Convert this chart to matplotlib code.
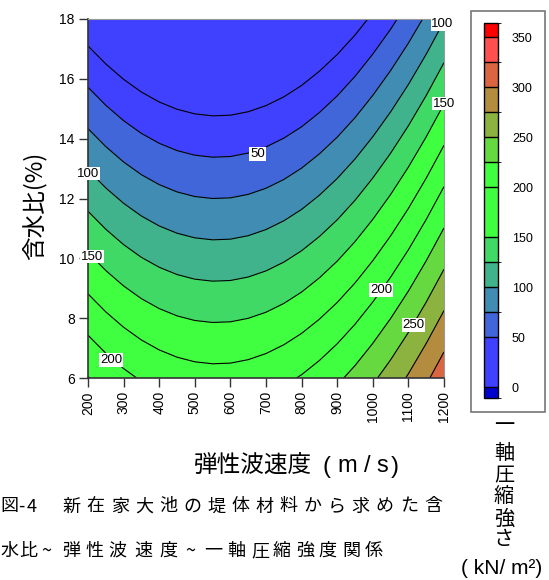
import numpy as np
import matplotlib.pyplot as plt
from matplotlib.colors import ListedColormap, BoundaryNorm
from matplotlib.cm import ScalarMappable
from matplotlib.patches import Rectangle

# grid: velocity (m/s) x moisture (%) -> strength (kN/m2)
velocity = [200, 250, 300, 350, 400, 450, 500, 550, 600, 650, 700,
            750, 800, 850, 900, 950, 1000, 1050, 1100, 1150, 1200]
moisture = [6, 8, 10, 12, 14, 16, 18]
strength = [
    [225.9, 215.0, 205.7, 198.0, 192.0, 187.6, 184.8, 183.6, 184.0, 186.1, 189.8,
     195.1, 202.0, 210.6, 220.7, 232.5, 246.0, 261.0, 277.6, 295.9, 315.8],
    [189.7, 178.8, 169.5, 161.8, 155.8, 151.4, 148.6, 147.4, 147.8, 149.9, 153.6,
     158.9, 165.8, 174.4, 184.5, 196.3, 209.8, 224.8, 241.4, 259.7, 279.6],
    [153.5, 142.6, 133.3, 125.6, 119.6, 115.2, 112.4, 111.2, 111.6, 113.7, 117.4,
     122.7, 129.6, 138.2, 148.3, 160.1, 173.6, 188.6, 205.2, 223.5, 243.4],
    [117.3, 106.4, 97.1, 89.4, 83.4, 79.0, 76.2, 75.0, 75.4, 77.5, 81.2,
     86.5, 93.4, 102.0, 112.1, 123.9, 137.4, 152.4, 169.0, 187.3, 207.2],
    [81.1, 70.2, 60.9, 53.2, 47.2, 42.8, 40.0, 38.8, 39.2, 41.3, 45.0,
     50.3, 57.2, 65.8, 75.9, 87.7, 101.2, 116.2, 132.8, 151.1, 171.0],
    [44.9, 34.0, 24.7, 17.0, 11.0, 6.6, 3.8, 2.6, 3.0, 5.1, 8.8,
     14.1, 21.0, 29.6, 39.7, 51.5, 65.0, 80.0, 96.6, 114.9, 134.8],
    [8.7, -2.2, -11.5, -19.2, -25.2, -29.6, -32.4, -33.6, -33.2, -31.1, -27.4,
     -22.1, -15.2, -6.6, 3.5, 15.3, 28.8, 43.8, 60.4, 78.7, 98.6],
]

line_levels = [25, 50, 75, 100, 125, 150, 175, 200, 225, 250, 275, 300, 325]
fill_levels = [-50] + line_levels + [375]
fill_colors = ['#4040FF', '#4040FF', '#4066D9', '#408CB3', '#40B38C', '#40D966',
               '#40FF40', '#40FF40', '#40FF40', '#66D940', '#8CB340', '#B38C40',
               '#D96640', '#FF5050']

label_text = ['100', '150', '50', '100', '150', '200', '200', '250']
label_x = [1196, 1200, 676, 200, 211, 265, 1024, 1114]
label_y = [17.83, 15.17, 13.48, 12.83, 10.06, 6.6, 8.94, 7.77]

cbar_bounds = [-11, 0, 50, 75, 100, 125, 150, 200, 225, 250, 275, 300, 325, 350, 364]
cbar_colors = ['#0000CC', '#4040FF', '#4066D9', '#408CB3', '#40B38C', '#40D966',
               '#40FF40', '#40FF40', '#66D940', '#8CB340', '#B38C40', '#D96640',
               '#FF5050', '#FF0000']
cbar_ticks = [0, 50, 100, 150, 200, 250, 300, 350]

W, H = 549, 580
JP = ['Noto Sans CJK JP', 'DejaVu Sans']
plt.rcParams['font.family'] = ['Liberation Sans', 'DejaVu Sans']

fig = plt.figure(figsize=(W / 100, H / 100), dpi=100)


def put(s, x, y, size, family=JP, **kw):
    fig.text(x / W, 1 - y / H, s, fontsize=size, family=family,
             ha='center', va='center', **kw)


ax = fig.add_axes([88 / W, 1 - 378 / H, 356 / W, 359 / H])
X, Y = np.meshgrid(velocity, moisture)
Z = np.array(strength)
ax.contourf(X, Y, Z, levels=fill_levels, colors=fill_colors)
ax.contour(X, Y, Z, levels=line_levels, colors='black', linewidths=0.8)

for t, x, y in zip(label_text, label_x, label_y):
    ax.text(x, y, t, ha='center', va='center', fontsize=9.5, zorder=5, clip_on=False,
            bbox=dict(facecolor='white', edgecolor='none', pad=0.6))

ax.set_xlim(200, 1200)
ax.set_ylim(6, 18)
ax.set_xticks(range(200, 1201, 100))
ax.set_yticks(range(6, 19, 2))
ax.tick_params(direction='out', length=6.5, width=1, labelsize=10, pad=3, color='#333333')
plt.setp(ax.get_xticklabels(), rotation=90)
for side in ['left', 'bottom']:
    ax.spines[side].set_color('#333333')
    ax.spines[side].set_linewidth(1.2)
for side in ['top', 'right']:
    ax.spines[side].set_color('#999999')

# colour scale inside a frame
fig.add_artist(Rectangle((471 / W, 1 - 412 / H), 74 / W, 401 / H, transform=fig.transFigure,
                         fill=False, edgecolor='#777777', linewidth=1.2))
cax = fig.add_axes([484 / W, 1 - 398 / H, 14 / W, 375 / H])
cmap = ListedColormap(cbar_colors)
norm = BoundaryNorm(cbar_bounds, cmap.N)
cb = fig.colorbar(ScalarMappable(norm=norm, cmap=cmap), cax=cax, spacing='proportional',
                  drawedges=True, ticks=cbar_ticks)
cb.outline.set_linewidth(1)
cb.dividers.set_linewidth(1)
cax.tick_params(length=0, pad=10, labelsize=9)

# axis titles
fig.text(35 / W, 1 - 206 / H, '含水比(%)', rotation=90, fontsize=17, family=JP,
         ha='center', va='center')
put('弾性波速度', 253.5, 466.5, 17)
for ch, x in zip('(m/s)', [326, 347, 367.5, 382.5, 395]):
    put(ch, x, 466.5, 17, family=['Liberation Sans'])

for ch, y in zip('一軸圧縮強さ', [425, 453, 476, 497.5, 519, 539]):
    put(ch, 504, y, 14.5)
put('( kN/ m²)', 502, 568, 15, family=['Liberation Sans'])

# caption
for ch, x in zip('図-4', [9, 21, 32]):
    put(ch, x, 506.5, 13)
for i, ch in enumerate('新在家大池の堤体材料から求めた含'):
    put(ch, 71.5 + 24.1 * i, 506.5, 13)
for ch, x in zip('水比~弾性波速度~一軸圧縮強度関係',
                 [9, 28, 46, 71, 94, 117.5, 143, 168, 190, 213.5,
                  236.5, 260, 282, 305, 327.5, 351, 374]):
    put(ch, x, 551, 13)

fig.savefig('out.png', dpi=100)
